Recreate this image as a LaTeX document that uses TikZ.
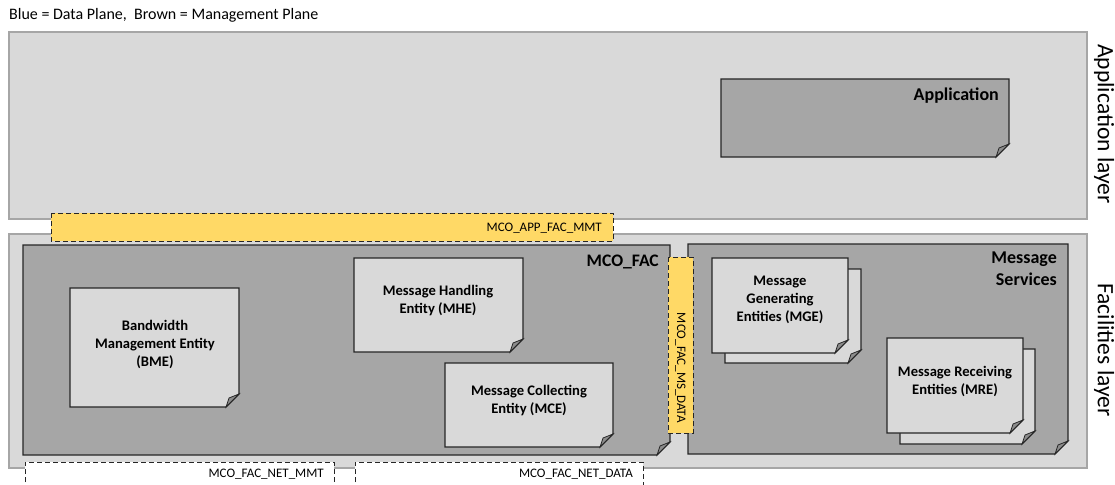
\documentclass[tikz,border=0pt]{standalone}
\usepackage{fontspec}
\setmainfont{Carlito}
\usetikzlibrary{calc}
\definecolor{layerfill}{HTML}{D9D9D9}
\definecolor{layerline}{HTML}{A6A6A6}
\definecolor{darkfill}{HTML}{A6A6A6}
\definecolor{lightfill}{HTML}{D9D9D9}
\definecolor{edgecol}{HTML}{262626}
\definecolor{yel}{HTML}{FFD966}
\definecolor{foldfill}{HTML}{8C8C8C}
\tikzset{
  boxedge/.style={draw=edgecol, line width=1.3pt, line join=miter},
  layerbox/.style={fill=layerfill, draw=layerline, line width=1.4pt},
  ifbox/.style={fill=yel, draw=edgecol, dash pattern=on 5pt off 3pt, line width=1pt},
  netbox/.style={fill=white, draw=edgecol, dash pattern=on 5pt off 3pt, line width=1pt},
  boxtext/.style={font=\bfseries\fontsize{14.6}{18}\selectfont, align=center, inner sep=0pt},
  titletext/.style={font=\bfseries\fontsize{17.6}{21}\selectfont, align=right, inner sep=0pt},
  iftext/.style={font=\fontsize{13}{15}\selectfont, inner sep=0pt},
  layertext/.style={font=\fontsize{23.5}{28}\selectfont, rotate=-90, inner sep=0pt},
}
\newcommand\notebox[6]{% name x1 y1 x2 y2 fill
  \coordinate (#1-nw) at (#2,#3);
  \coordinate (#1-se) at (#4,#5);
  \filldraw[fill=#6, boxedge] (#2,#3) -- (#4,#3) -- (#4,#5-13) -- (#4-13,#5) -- (#2,#5) -- cycle;
  \filldraw[fill=foldfill, boxedge, line width=0.8pt] (#4,#5-13) -- (#4-13,#5) -- (#4-10,#5-9) -- cycle;
}
\begin{document}
\begin{tikzpicture}[x=1pt, y=-1pt]
\useasboundingbox (0,0) rectangle (1115,484);
% header
\node[anchor=west, inner sep=0pt, font=\fontsize{16}{19}\selectfont] (legend) at (9,15) {Blue = Data Plane,\ \ Brown = Management Plane};
% layers
\draw[layerbox] (9,32) rectangle (1087,219);
\coordinate (applayer) at (9,32);
\draw[layerbox] (9,234) rectangle (1087,468);
\coordinate (faclayer) at (9,234);
\node[layertext] (applabel) at (1104,124) {Application layer};
\node[layertext] (faclabel) at (1104,350) {Facilities layer};
% application
\notebox{app}{721}{79}{1009}{157}{darkfill}
\node[titletext, font=\bfseries\fontsize{18}{21}\selectfont, anchor=east] (apptext) at (999,96) {Application};
% MCO_FAC
\notebox{fac}{23}{245}{670}{455}{darkfill}
\node[titletext, anchor=east] (factext) at (659,262) {MCO\_FAC};
\notebox{bme}{70}{288}{239}{407}{lightfill}
\node[boxtext] (bmetext) at (155,344) {Bandwidth\\Management Entity\\(BME)};
\notebox{mhe}{354}{258}{523}{352}{lightfill}
\node[boxtext] (mhetext) at (438,301) {Message Handling\\Entity (MHE)};
\notebox{mce}{445}{363}{613}{447}{lightfill}
\node[boxtext] (mcetext) at (529,401) {Message Collecting\\Entity (MCE)};
% Message services
\notebox{ms}{688}{244}{1068}{454}{darkfill}
\node[titletext, font=\bfseries\fontsize{18}{22}\selectfont, anchor=north east] (mstext) at (1057,252) {Message\\Services};
\notebox{mgeb}{725}{269}{861}{363}{lightfill}
\notebox{mge}{712}{258}{848}{353}{lightfill}
\node[boxtext] (mgetext) at (780,300) {Message\\Generating\\Entities (MGE)};
\notebox{mreb}{900}{349}{1035}{444}{lightfill}
\notebox{mre}{887}{338}{1023}{433}{lightfill}
\node[boxtext] (mretext) at (955,381) {Message Receiving\\Entities (MRE)};
% interfaces
\draw[ifbox] (51,213) rectangle (613,241);
\node[iftext, anchor=east] (appfac) at (602,228) {MCO\_APP\_FAC\_MMT};
\draw[ifbox] (668,257) rectangle (693,433);
\node[iftext, rotate=-90, anchor=east] (facms) at (680.5,423) {MCO\_FAC\_MS\_DATA};
\fill[white] (25,462) rectangle (334,490);
\draw[netbox] (25,490) -- (25,462) -- (334,462) -- (334,490);
\node[iftext, anchor=east] (netmmt) at (324,474) {MCO\_FAC\_NET\_MMT};
\fill[white] (355,462) rectangle (643,490);
\draw[netbox] (355,490) -- (355,462) -- (643,462) -- (643,490);
\node[iftext, anchor=east] (netdata) at (633,474) {MCO\_FAC\_NET\_DATA};
\end{tikzpicture}
\end{document}
